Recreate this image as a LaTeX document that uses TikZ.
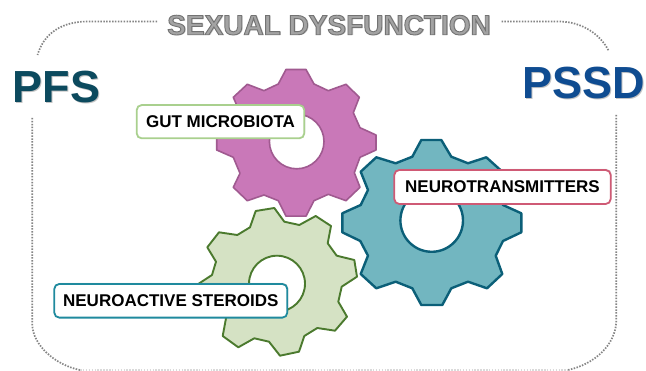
\documentclass[tikz,border=0pt]{standalone}
\usepackage{fontspec}
\setmainfont{Liberation Sans}
\usetikzlibrary{shadows}
\definecolor{dotgray}{HTML}{858585}
\definecolor{pfscol}{HTML}{0C4A5E}
\definecolor{pssdcol}{HTML}{0F4C91}
\definecolor{shadowgray}{HTML}{C4C4C4}
\newcommand{\shadowed}[3]{\makebox[0pt][l]{\raisebox{-#3}{\hspace{#3}\textcolor{shadowgray}{#1}}}\textcolor{#2}{#1}}
\newcommand{\outlined}[1]{\makebox[0pt][l]{\raisebox{-1.2pt}{\hspace{1.2pt}\textcolor{shadowgray}{#1}}}\special{pdf:code 2 Tr 0.9 w 0.45 0.45 0.45 RG 0.64 0.64 0.64 rg}#1\special{pdf:code 0 Tr 0 0 0 RG 0 0 0 rg}}
\tikzset{
  dotline/.style={draw=dotgray,line width=1.7pt,dash pattern=on 1.5pt off 1.4pt},
  purplegear/.style={fill=gearpurple,draw=gearpurpleline,line width=1.6pt,line join=round},
  tealgear/.style={fill=gearteal,draw=geartealline,line width=2.4pt,line join=round},
  greengear/.style={fill=geargreen,draw=geargreenline,line width=1.9pt,line join=round},
  labelbox/.style={rounded corners=5pt,fill=white,line width=1.8pt,inner sep=0pt,
    drop shadow={opacity=.25,shadow xshift=1pt,shadow yshift=1pt},font=\fontsize{17}{17}\selectfont\bfseries,text=black,anchor=center},
  bigtext/.style={font=\fontsize{45}{45}\selectfont\bfseries,inner sep=0pt,anchor=center}
}
\definecolor{gearpurple}{HTML}{C978B8}
\definecolor{gearpurpleline}{HTML}{A05A90}
\definecolor{gearteal}{HTML}{72B6C0}
\definecolor{geartealline}{HTML}{0B5F78}
\definecolor{geargreen}{HTML}{D5E2C4}
\definecolor{geargreenline}{HTML}{4B7A2E}
\definecolor{boxgreen}{HTML}{A9D08E}
\definecolor{boxred}{HTML}{CF5A75}
\definecolor{boxteal}{HTML}{1F8A9E}
\begin{document}
\begin{tikzpicture}[x=1pt,y=-1pt]
\useasboundingbox (0,0) rectangle (646,371);
\fill[white] (0,0) rectangle (646,371);
% dotted frame
\draw[dotline] (157,21.5) -- (88,21.5) .. controls (62,21.5) and (44,33) .. (37.5,55);
\draw[dotline] (501.5,21.5) -- (560,21.5) .. controls (582,22) and (600,34) .. (608.5,50.5);
\draw[dotline] (32.3,118) -- (32.3,325) .. controls (33,345) and (55,365) .. (80,370);
\draw[dotline] (616.3,115) -- (616.3,322) .. controls (615,345) and (595,364) .. (568,370);
\draw[dotline,draw=dotgray!30] (80,370.3) -- (568,370.3);
% purple gear
\draw[purplegear] (286,69.5)--(306,69.5)--(314,84)--(328.3,90.7)--(346,84.3)--(359.3,97.3)--(353.3,112.7)--(360,127.7)--(376,135)--(376,150)--(360,157.3)--(354.3,172.7)--(360,187.3)--(346,200.7)--(328.3,194.3)--(314,200.7)--(306,216.2)--(286,216.2)--(278.3,200.7)--(264,195)--(247.3,200.7)--(233.3,187.3)--(240,173.3)--(233.3,157.3)--(216.7,150)--(216.7,135)--(233.3,127.7)--(240,112.7)--(233.3,97.3)--(247.3,84.3)--(264,90.7)--(278.3,84)--cycle;
\draw[purplegear,fill=white] (296.7,141.5) circle (27.3);
% green gear
\draw[greengear] (255.7,211)--(274.3,208)--(284.3,221.7)--(299.3,225)--(315.7,216)--(331,226)--(327.7,243.3)--(336.7,255.7)--(354.3,260)--(357,276.7)--(341.7,286.7)--(338.3,301.7)--(347,316.7)--(335,330.7)--(317.3,328)--(304.3,336)--(299,351.7)--(280,355.7)--(269,341.7)--(254.3,338.3)--(238.3,347.3)--(222.7,336)--(226,318.3)--(217,306)--(199.3,301.7)--(196.7,285)--(212,275)--(216,261.7)--(207.3,247.3)--(219,232.3)--(237.3,235)--(250,227.3)--cycle;
\draw[greengear,fill=white] (277,283.7) circle (28);
% teal gear
\draw[tealgear] (421.3,140)--(441.3,140)--(451.3,156.7)--(468,163.3)--(486.3,157.3)--(502.3,171.7)--(495.7,190)--(503,205)--(521.3,213.3)--(521.3,232.3)--(503,241)--(495.7,255.7)--(502.3,274)--(487,288.3)--(468,281.7)--(451.3,288.3)--(442.3,305)--(421.3,305)--(412.3,288.3)--(395.7,281.7)--(376.3,288.3)--(360.7,274)--(368,255.7)--(360.3,241)--(342.3,232.3)--(342.3,213.3)--(360.7,205)--(368,190)--(360.7,171.7)--(376.3,157.3)--(395.7,163.3)--(412.3,156.7)--cycle;
\draw[tealgear,fill=white] (431.7,220.5) circle (31.3);
% labels
\node[labelbox,draw=boxgreen,minimum width=167.6pt,minimum height=33.3pt] (gut) at (220.5,121.7) {GUT MICROBIOTA};
\node[labelbox,draw=boxred,minimum width=216.4pt,minimum height=34pt] (neuro) at (502.5,187) {NEUROTRANSMITTERS};
\node[labelbox,draw=boxteal,minimum width=233pt,minimum height=33.7pt] (steroids) at (170.8,300.8) {NEUROACTIVE STEROIDS};
% titles
\node[bigtext] (pfs) at (56.3,87.5) {\shadowed{PFS}{pfscol}{1.3pt}};
\node[bigtext] (pssd) at (583.3,83.2) {\shadowed{PSSD}{pssdcol}{1.3pt}};
\node[inner sep=0pt,font=\fontsize{28}{28}\selectfont\bfseries] (title) at (329,25.7) {\outlined{SEXUAL DYSFUNCTION}};
\end{tikzpicture}
\end{document}
